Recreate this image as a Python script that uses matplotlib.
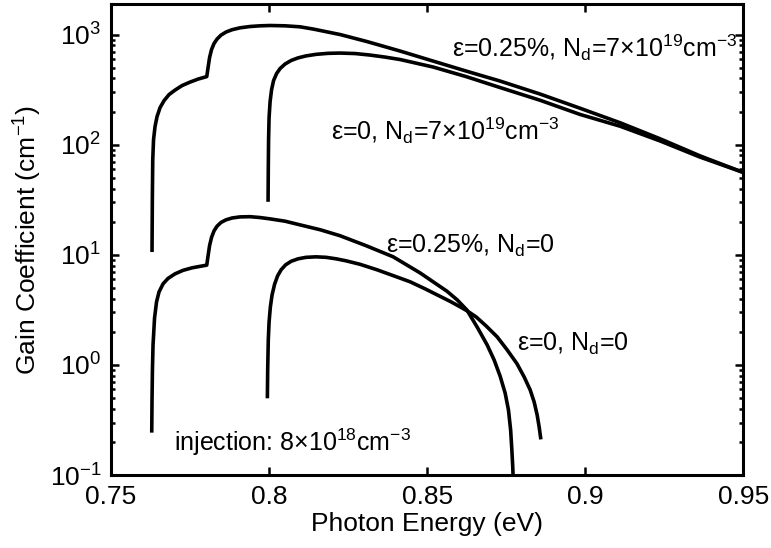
import matplotlib
matplotlib.use("Agg")
import matplotlib.pyplot as plt

plt.rcParams['font.family'] = ['Liberation Sans', 'DejaVu Sans']
plt.rcParams['mathtext.fontset'] = 'custom'
plt.rcParams['mathtext.rm'] = 'Liberation Sans'
plt.rcParams['mathtext.it'] = 'Liberation Sans:italic'
plt.rcParams['mathtext.default'] = 'regular'

# eps=0.25%, Nd=7e19
e1_x = [0.76297, 0.76307, 0.76320, 0.76345, 0.76392, 0.76456, 0.76551, 0.76677, 0.76835,
        0.77025, 0.77247, 0.77500, 0.77753, 0.78028, 0.78070, 0.78117, 0.78180, 0.78259,
        0.78354, 0.78481, 0.78639, 0.78829, 0.79082, 0.79399, 0.79715, 0.80032, 0.80506,
        0.80981, 0.81392, 0.82247, 0.83100, 0.84146, 0.85190, 0.86234, 0.87310, 0.88576,
        0.89842, 0.91108, 0.92373, 0.93640, 0.95000]
e1_g = [10.6, 31.6, 73, 111, 146, 180, 217, 251, 285,
        313, 344, 370, 394, 415, 501, 617, 731, 829,
        910, 989, 1054, 1106, 1151, 1183, 1200, 1208, 1200,
        1175, 1122, 1000, 863, 708, 574, 466, 378, 288,
        214, 158, 113, 79, 56]

# eps=0, Nd=7e19
e2_x = [0.79968, 0.79975, 0.79984, 0.80000, 0.80032, 0.80079, 0.80142, 0.80237, 0.80348,
        0.80506, 0.80696, 0.80918, 0.81171, 0.81487, 0.81867, 0.82247, 0.82722, 0.83196,
        0.83671, 0.84146, 0.85190, 0.86234, 0.87310, 0.88576, 0.89842, 0.91108, 0.92373,
        0.93640, 0.95000]
e2_g = [30.3, 59, 111, 176, 246, 316, 382, 442, 491,
        540, 581, 614, 640, 661, 675, 679, 672, 651,
        624, 593, 507, 415, 330, 253, 188, 147, 108,
        77, 56]

# eps=0.25%, Nd=0
e3_x = [0.76288, 0.76297, 0.76310, 0.76329, 0.76377, 0.76440, 0.76519, 0.76646, 0.76804,
        0.77025, 0.77278, 0.77563, 0.77816, 0.78028, 0.78070, 0.78117, 0.78180, 0.78259,
        0.78354, 0.78481, 0.78639, 0.78829, 0.79082, 0.79399, 0.79715, 0.80032, 0.80506,
        0.80981, 0.81614, 0.82247, 0.83070, 0.83924, 0.84778, 0.85190, 0.85633, 0.85950,
        0.86256, 0.86582, 0.86899, 0.87120, 0.87310, 0.87468, 0.87573, 0.87642, 0.87680,
        0.87706, 0.87722]
e3_g = [0.243, 0.481, 0.90, 1.52, 2.67, 3.74, 4.61, 5.45, 6.11,
        6.72, 7.23, 7.62, 7.86, 8.06, 9.8, 12.1, 14.4, 16.5,
        18.2, 19.7, 20.8, 21.6, 22.1, 22.2, 21.8, 21.2, 20.2,
        18.7, 16.9, 14.9, 12.1, 9.6, 6.85, 5.69, 4.66, 3.90,
        3.16, 2.21, 1.52, 1.11, 0.79, 0.556, 0.39, 0.256, 0.169,
        0.123, 0.094]

# eps=0, Nd=0
e4_x = [0.79946, 0.79956, 0.79975, 0.80000, 0.80041, 0.80095, 0.80174, 0.80269, 0.80380,
        0.80522, 0.80696, 0.80918, 0.81171, 0.81487, 0.81804, 0.82120, 0.82437, 0.82880,
        0.83418, 0.83987, 0.84462, 0.84937, 0.85316, 0.85728, 0.86044, 0.86266, 0.86551,
        0.86867, 0.87215, 0.87532, 0.87839, 0.88070, 0.88260, 0.88386, 0.88481, 0.88544,
        0.88598]
e4_g = [0.498, 0.90, 1.69, 2.46, 3.37, 4.33, 5.40, 6.44, 7.31,
        8.11, 8.73, 9.20, 9.49, 9.59, 9.49, 9.20, 8.82, 8.20,
        7.31, 6.38, 5.69, 4.91, 4.33, 3.78, 3.37, 3.10, 2.73,
        2.26, 1.80, 1.37, 1.03, 0.778, 0.593, 0.461, 0.351, 0.273,
        0.211]

xticks = [0.75, 0.8, 0.85, 0.9, 0.95]
xtick_labels = ['0.75', '0.8', '0.85', '0.9', '0.95']

fig = plt.figure(figsize=(7.71, 5.48), dpi=100)
ax = fig.add_axes([0.144, 0.133, 0.820, 0.860])

for xs, gs in [(e1_x, e1_g), (e2_x, e2_g), (e3_x, e3_g), (e4_x, e4_g)]:
    ax.plot(xs, gs, color='black', lw=2.6, solid_capstyle='butt', solid_joinstyle='round')

ax.set_yscale('log')
ax.set_xlim(0.75, 0.95)
ax.set_ylim(0.1, 1900)
ax.set_xticks(xticks)
ax.set_xticklabels(xtick_labels)

for s in ax.spines.values():
    s.set_linewidth(2.2)
ax.tick_params(which='both', direction='in', top=True, right=True, width=1.8)
ax.tick_params(which='major', length=6, labelsize=19, pad=7)
ax.tick_params(which='minor', length=3)

ax.set_xlabel('Photon Energy (eV)', fontsize=19, labelpad=2)
ax.set_ylabel('Gain Coefficient (cm$^{-1}$)', fontsize=19, labelpad=4)

# curve labels
fs = 18
ax.text(0.8580, 760, 'ε=0.25%, N$_d$=7×10$^{19}$cm$^{-3}$', fontsize=fs, va='center')
ax.text(0.8195, 135, 'ε=0, N$_d$=7×10$^{19}$cm$^{-3}$', fontsize=fs, va='center')
ax.text(0.8370, 12, 'ε=0.25%, N$_d$=0', fontsize=fs, va='center')
ax.text(0.8785, 1.55, 'ε=0, N$_d$=0', fontsize=fs, va='center')
ax.text(0.7700, 0.2, 'injection: 8×10$^{18}$cm$^{-3}$', fontsize=fs, va='center')

fig.savefig('out.png', dpi=100)
